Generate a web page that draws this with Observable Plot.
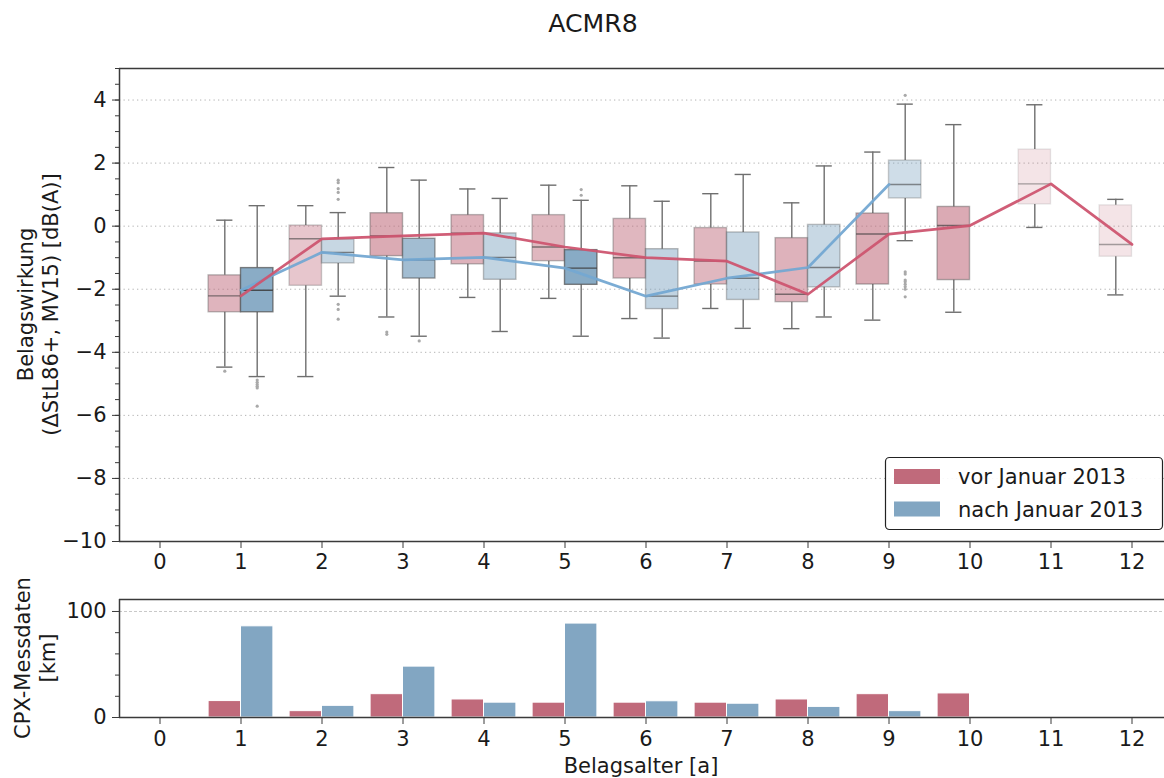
<!DOCTYPE html>
<html>
<head>
<meta charset="utf-8">
<script src="https://cdn.jsdelivr.net/npm/d3@7"></script>
<script src="https://cdn.jsdelivr.net/npm/@observablehq/plot@0.6"></script>
<style>
  html, body { margin: 0; padding: 0; background: #fff; overflow: hidden; }
  #fig { position: relative; width: 1164px; height: 778px; overflow: hidden; font-family: "DejaVu Sans", sans-serif; }
  #fig svg { position: absolute; left: 0; }
</style>
</head>
<body>
<div id="fig"></div>
<script>
// Pavement age (years) used as x ticks
const ages = [0, 1, 2, 3, 4, 5, 6, 7, 8, 9, 10, 11, 12];
const effectTicks = [-10, -8, -6, -4, -2, 0, 2, 4];
const kmTicks = [0, 100];

// Series "vor Januar 2013": box statistics per age [dB(A)]
const vorAge  = [1, 2, 3, 4, 5, 6, 7, 8, 9, 10, 11, 12];
const vorLow  = [-4.47, -4.77, -2.88, -2.26, -2.29, -2.93, -2.61, -3.25, -2.98, -2.73, -0.04, -2.18];
const vorQ1   = [-2.73, -1.89, -0.95, -1.21, -1.11, -1.66, -1.85, -2.41, -1.85, -1.71, 0.69, -0.97];
const vorMed  = [-2.21, -0.40, -0.31, -0.22, -0.66, -1.00, -1.11, -2.16, -0.25, 0.02, 1.34, -0.58];
const vorQ3   = [-1.56, 0.02, 0.41, 0.35, 0.35, 0.23, -0.06, -0.38, 0.40, 0.61, 2.43, 0.66];
const vorHigh = [0.19, 0.65, 1.86, 1.18, 1.30, 1.28, 1.03, 0.74, 2.35, 3.22, 3.85, 0.85];
const vorKm   = [15.5, 6, 22, 17, 14, 14, 14, 17, 22, 22.7, 0, 0];

// Series "nach Januar 2013"
const nachAge  = [1, 2, 3, 4, 5, 6, 7, 8, 9];
const nachLow  = [-4.77, -2.22, -3.49, -3.34, -3.49, -3.55, -3.24, -2.88, -0.46];
const nachQ1   = [-2.73, -1.18, -1.66, -1.70, -1.86, -2.63, -2.34, -1.94, 0.88];
const nachMed  = [-2.03, -0.83, -1.07, -0.99, -1.33, -2.22, -1.65, -1.31, 1.32];
const nachQ3   = [-1.33, -0.42, -0.40, -0.23, -0.76, -0.73, -0.20, 0.04, 2.08];
const nachHigh = [0.65, 0.43, 1.46, 0.88, 0.82, 0.79, 1.64, 1.91, 3.87];
const nachKm   = [86, 11, 48, 14, 88.6, 15.3, 13, 10, 6];

// Outliers beyond the whiskers
const vorOutAge = [1, 3, 3];
const vorOutVal = [-4.6, -3.36, -3.43];
const nachOutAge = [1, 1, 1, 1, 1, 1, 2, 2, 2, 2, 2, 2, 2, 2, 3, 5, 5, 9, 9, 9, 9, 9, 9, 9, 9, 9];
const nachOutVal = [-4.88, -4.95, -5.02, -5.08, -5.13, -5.71, 1.46, 1.38, 1.19, 1.07, 0.85, -2.48, -2.64, -2.95,
                    -3.64, 1.16, 0.98, 4.15, -1.45, -1.52, -1.71, -1.76, -1.84, -1.92, -2.0, -2.24];

const series = [
  { key: "vor",  label: "vor Januar 2013",  color: "#c06a7b", line: "#cd5570", shift: -0.2,
    age: vorAge, low: vorLow, q1: vorQ1, med: vorMed, q3: vorQ3, high: vorHigh, km: vorKm, outAge: vorOutAge, outVal: vorOutVal },
  { key: "nach", label: "nach Januar 2013", color: "#82a6c2", line: "#74a8d2", shift: 0.2,
    age: nachAge, low: nachLow, q1: nachQ1, med: nachMed, q3: nachQ3, high: nachHigh, km: nachKm, outAge: nachOutAge, outVal: nachOutVal }
];

const rowsOf = s => s.age.map((age, i) => ({
  age, pos: age + s.shift, low: s.low[i], q1: s.q1[i], med: s.med[i], q3: s.q3[i], high: s.high[i], km: s.km[i]
}));
const outliersOf = s => s.outAge.map((age, i) => ({ pos: age + s.shift, value: s.outVal[i] }));

// Box shading follows the measured distance behind each box
const maxKm = d3.max([...vorKm, ...nachKm]);
const alpha = d3.scaleSqrt().domain([0, maxKm]).range([0.18, 0.95]);

const HALF = 0.2;
const minus = d => (d < 0 ? "\u2212" + Math.abs(d) : String(d));
const blank = () => "";
const INK = "#1a1a1a";
const SPINE = "#3a3a3a";
const WHISKER = "#6f6f6f";
const xScale = { domain: [-0.5, 12.5], range: [119, 1172], axis: null };
const baseStyle = { fontFamily: "DejaVu Sans, sans-serif", fontSize: "21px", color: INK, background: "transparent", overflow: "visible" };

// ---- Upper panel: boxplots of the pavement effect ----
const boxMarks = [];
for (const s of series) {
  const rows = rowsOf(s);
  boxMarks.push(
    Plot.ruleX(rows, { x: "pos", y1: "low", y2: "q1", stroke: WHISKER, strokeWidth: 1.4 }),
    Plot.ruleX(rows, { x: "pos", y1: "q3", y2: "high", stroke: WHISKER, strokeWidth: 1.4 }),
    Plot.ruleY(rows, { y: "low", x1: d => d.pos - HALF / 2, x2: d => d.pos + HALF / 2, stroke: WHISKER, strokeWidth: 1.4 }),
    Plot.ruleY(rows, { y: "high", x1: d => d.pos - HALF / 2, x2: d => d.pos + HALF / 2, stroke: WHISKER, strokeWidth: 1.4 }),
    Plot.rect(rows, { x1: d => d.pos - HALF, x2: d => d.pos + HALF, y1: "q1", y2: "q3",
      fill: s.color, fillOpacity: d => alpha(d.km), stroke: "#505050", strokeOpacity: d => alpha(d.km) * 0.75, strokeWidth: 1.4 }),
    Plot.ruleY(rows, { y: "med", x1: d => d.pos - HALF, x2: d => d.pos + HALF,
      stroke: "#3c3c3c", strokeOpacity: d => 0.35 + 0.55 * alpha(d.km), strokeWidth: 1.4 })
  );
}
for (const s of series) {
  boxMarks.push(Plot.dot(outliersOf(s), { x: "pos", y: "value", r: 1.6, fill: "#a9a9a9", stroke: null }));
}
// Median trend lines at the integer ages
for (const s of [series[1], series[0]]) {
  boxMarks.push(Plot.line(rowsOf(s), { x: "age", y: "med", stroke: s.line, strokeWidth: 2.7, strokeOpacity: 0.95 }));
}

const upper = Plot.plot({
  width: 1164, height: 540,
  marginTop: 18, marginBottom: 49, marginLeft: 119, marginRight: 0,
  style: baseStyle,
  x: xScale,
  y: { domain: [-10, 5], axis: null },
  marks: [
    Plot.ruleY(effectTicks.filter(d => d > -10), { stroke: "#b3b3b3", strokeWidth: 1, strokeDasharray: "1.3,3.2" }),
    ...boxMarks,
    Plot.ruleY([-10, 5], { stroke: SPINE, strokeWidth: 1.5 }),
    Plot.ruleX([-0.5], { stroke: SPINE, strokeWidth: 1.5 }),
    Plot.axisY({ ticks: d3.range(-10, 5.001, 0.5), tickSize: 4, tickFormat: blank, label: null, stroke: SPINE }),
    Plot.axisY({ ticks: effectTicks, tickSize: 7, tickPadding: 6, tickFormat: minus, label: null, stroke: SPINE }),
    Plot.axisX({ ticks: ages, tickSize: 7, tickPadding: 6, label: null, stroke: SPINE })
  ]
});
upper.style.top = "50px";

// ---- Lower panel: CPX measured distance ----
const barMarks = [];
for (const s of series) {
  const bars = s.age.map((age, i) => ({ pos: age + s.shift, km: s.km[i] })).filter(d => d.km > 0);
  barMarks.push(Plot.rect(bars, { x1: d => d.pos - HALF, x2: d => d.pos + HALF, y1: 0, y2: "km",
    fill: s.color, stroke: "white", strokeWidth: 1 }));
}
const lower = Plot.plot({
  width: 1164, height: 188,
  marginTop: 9, marginBottom: 61, marginLeft: 119, marginRight: 0,
  style: baseStyle,
  x: xScale,
  y: { domain: [0, 111.3], axis: null },
  marks: [
    Plot.ruleY([100], { stroke: "#c8c8c8", strokeWidth: 1, strokeDasharray: "3,2" }),
    ...barMarks,
    Plot.ruleY([0, 111.3], { stroke: SPINE, strokeWidth: 1.5 }),
    Plot.ruleX([-0.5], { stroke: SPINE, strokeWidth: 1.5 }),
    Plot.axisY({ ticks: [20, 40, 60, 80], tickSize: 4, tickFormat: blank, label: null, stroke: SPINE }),
    Plot.axisY({ ticks: kmTicks, tickSize: 7, tickPadding: 6, label: null, stroke: SPINE }),
    Plot.axisX({ ticks: ages, tickSize: 7, tickPadding: 7, label: null, stroke: SPINE })
  ]
});
lower.style.top = "590px";

const fig = document.getElementById("fig");
fig.append(upper, lower);

// ---- Title, axis titles and legend ----
const overlay = d3.select(fig).append("svg")
  .attr("width", 1164).attr("height", 778)
  .style("top", "0px")
  .attr("font-family", "DejaVu Sans, sans-serif")
  .attr("fill", INK);

overlay.append("text").attr("x", 593).attr("y", 31.5).attr("text-anchor", "middle")
  .attr("font-size", 25.2).text("ACMR8");

const yTitle = (cy, lines, baselines) => {
  const g = overlay.append("g").attr("transform", `translate(0,${cy}) rotate(-90)`);
  lines.forEach((t, i) => g.append("text").attr("x", 0).attr("y", baselines[i])
    .attr("text-anchor", "middle").attr("font-size", 21).text(t));
};
yTitle(304.5, ["Belagswirkung", "(\u0394StL86+, MV15) [dB(A)]"], [33, 58]);
yTitle(658, ["CPX-Messdaten", "[km]"], [30, 55]);

overlay.append("text").attr("x", 641).attr("y", 773).attr("text-anchor", "middle")
  .attr("font-size", 21).text("Belagsalter [a]");

const legend = overlay.append("g");
legend.append("rect").attr("x", 885.5).attr("y", 457.5).attr("width", 277).attr("height", 72)
  .attr("rx", 4).attr("fill", "white").attr("fill-opacity", 0.9).attr("stroke", "#222").attr("stroke-width", 1.2);
series.forEach((s, i) => {
  legend.append("rect").attr("x", 894).attr("y", 469 + i * 32.5).attr("width", 46).attr("height", 15).attr("fill", s.color);
  legend.append("text").attr("x", 958).attr("y", 484 + i * 32.5).attr("font-size", 21).text(s.label);
});
</script>
</body>
</html>
